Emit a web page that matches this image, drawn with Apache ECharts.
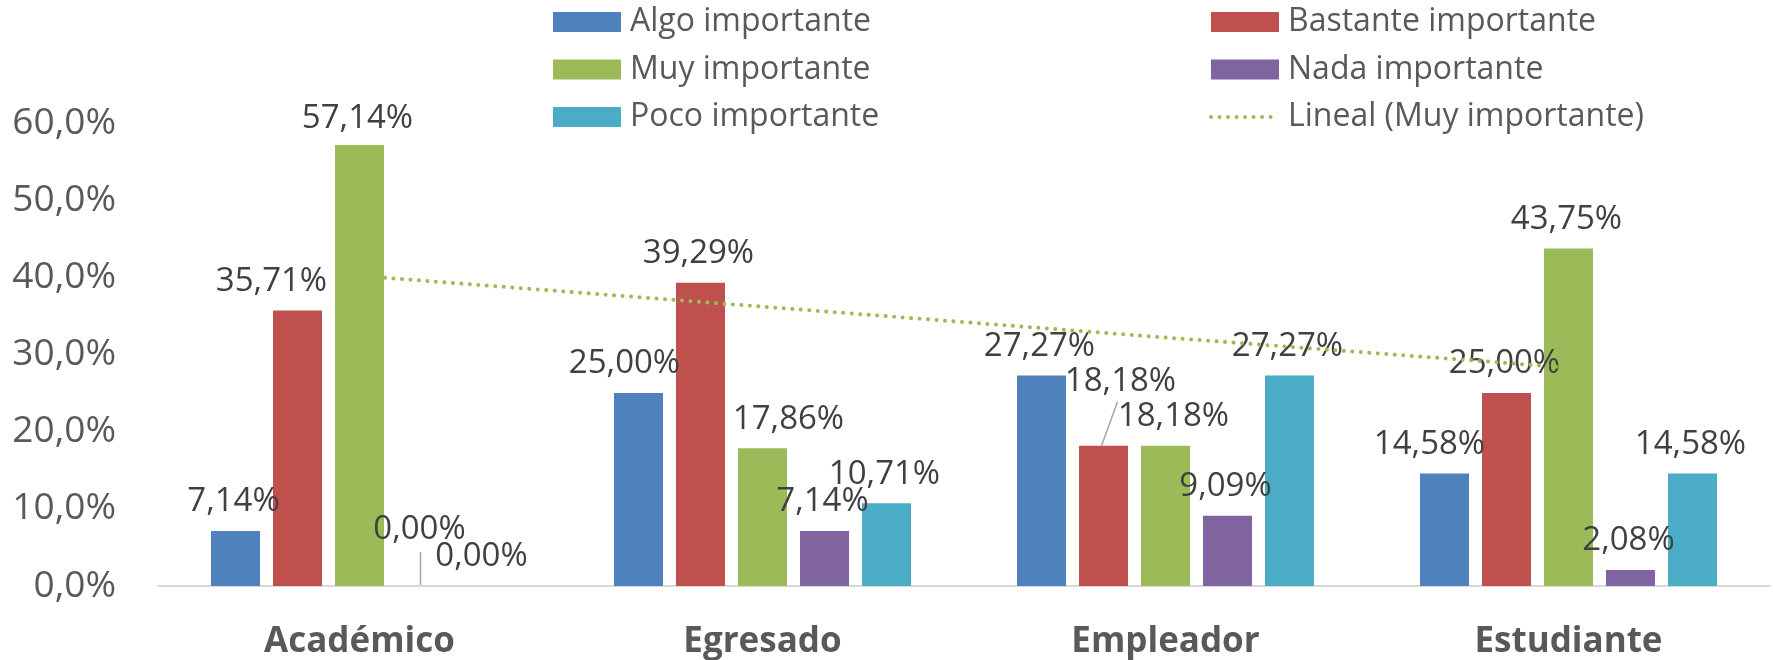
<!DOCTYPE html>
<html>
<head>
<meta charset="utf-8">
<script src="https://cdn.jsdelivr.net/npm/echarts@6/dist/echarts.min.js"></script>
<style>
html,body{margin:0;padding:0;background:#fff;}
#chart{width:1773px;height:660px;}
</style>
</head>
<body>
<div id="chart"></div>
<script>
const categories = ['Académico', 'Egresado', 'Empleador', 'Estudiante'];
const algoImportante = [7.14, 25.00, 27.27, 14.58];
const bastanteImportante = [35.71, 39.29, 18.18, 25.00];
const muyImportante = [57.14, 17.86, 18.18, 43.75];
const nadaImportante = [0.00, 7.14, 9.09, 2.08];
const pocoImportante = [0.00, 10.71, 27.27, 14.58];
const linealMuyImportante = [40.2, 36.2, 32.2, 28.3];

// label placement tweaks (pixels), like manually dragged labels in the original
const labelAdjust = {
  'Algo importante': {1: [-12, 0], 3: [-13, 0]},
  'Bastante importante': {0: [-24, 0], 2: [72, 0]},
  'Muy importante': {0: [0, 3], 1: [28, 0], 2: [-43, -35]},
  'Nada importante': {0: [0, -27]},
  'Poco importante': {}
};

// leader lines from a bar top (pixel offsets relative to the bar's top centre)
const leaderSpec = [
  {series: 'Nada importante', index: 0, from: [-1, -1], to: [-1, -34]},
  {series: 'Bastante importante', index: 2, from: [-2, 0], to: [14, -44]}
];

const colors = {
  'Algo importante': '#4F81BD',
  'Bastante importante': '#C0504D',
  'Muy importante': '#9BBB59',
  'Nada importante': '#8064A2',
  'Poco importante': '#4BACC6'
};

function fmt(v) { return v.toFixed(2).replace('.', ',') + '%'; }

function barSeries(name, values) {
  const adj = labelAdjust[name] || {};
  return {
    name: name,
    type: 'bar',
    barGap: '26.5%',
    barCategoryGap: '26.3%',
    itemStyle: {color: colors[name]},
    label: {
      show: true,
      position: 'top',
      distance: 11,
      offset: [-2, 0],
      fontSize: 33,
      lineHeight: 36,
      color: '#404040',
      fontFamily: 'Open Sans',
      formatter: function (p) { return fmt(p.value); }
    },
    data: values.map(function (v, i) {
      const a = adj[i];
      const item = {value: v};
      if (a) item.label = {offset: [-2 + a[0], a[1]]};
      return item;
    })
  };
}

const chart = echarts.init(document.getElementById('chart'));
chart.setOption({
  animation: false,
  textStyle: {fontFamily: 'Open Sans'},
  legend: [
    {
      orient: 'vertical', left: 553, top: 3, padding: 0,
      itemWidth: 68, itemHeight: 20, itemGap: 9.5,
      textStyle: {fontSize: 32, lineHeight: 38, color: '#595959', padding: [0, 0, 0, 4]},
      data: [
        {name: 'Algo importante', icon: 'rect'},
        {name: 'Muy importante', icon: 'rect'},
        {name: 'Poco importante', icon: 'rect'}
      ]
    },
    {
      orient: 'vertical', left: 1209, top: 3, padding: 0,
      itemWidth: 68, itemHeight: 20, itemGap: 9.5,
      textStyle: {fontSize: 32, lineHeight: 38, color: '#595959', padding: [0, 0, 0, 4]},
      data: [
        {name: 'Bastante importante', icon: 'rect'},
        {name: 'Nada importante', icon: 'rect'},
        {name: 'Lineal (Muy importante)', itemStyle: {opacity: 0},
         lineStyle: {width: 4, type: [0.01, 8.5], cap: 'round', color: '#9BBB59'}}
      ]
    }
  ],
  grid: {left: 158, right: 3, top: 123, bottom: 74, containLabel: false, outerBoundsMode: 'none'},
  xAxis: {
    type: 'category',
    data: categories,
    axisLine: {show: true, lineStyle: {color: '#D9D9D9', width: 2}},
    axisTick: {show: false},
    axisLabel: {fontSize: 35, fontWeight: 'bold', color: '#595959', margin: 35, lineHeight: 42}
  },
  yAxis: {
    type: 'value',
    min: 0, max: 60, interval: 10,
    splitLine: {show: false},
    axisLine: {show: false},
    axisTick: {show: false},
    axisLabel: {
      fontSize: 37, color: '#595959', margin: 42, padding: [9, 0, 0, 0],
      formatter: function (v) { return v.toFixed(1).replace('.', ',') + '%'; }
    }
  },
  series: [
    barSeries('Algo importante', algoImportante),
    barSeries('Bastante importante', bastanteImportante),
    {
      name: 'Lineal (Muy importante)',
      type: 'line',
      data: linealMuyImportante,
      symbol: 'none',
      silent: true,
      itemStyle: {color: '#9BBB59'},
      lineStyle: {color: '#9BBB59', width: 4, type: [0.01, 8.5], cap: 'round'}
    },
    barSeries('Muy importante', muyImportante),
    barSeries('Nada importante', nadaImportante),
    barSeries('Poco importante', pocoImportante)
  ]
});

// leader lines positioned from the library's own bar layout
const gmodel = chart.getModel();
const graphics = [];
leaderSpec.forEach(function (s) {
  const sm = gmodel.getSeriesByName(s.series)[0];
  if (!sm) return;
  const lay = sm.getData().getItemLayout(s.index);
  if (!lay) return;
  const cx = lay.x + lay.width / 2;
  const top = lay.y + lay.height;
  graphics.push({
    type: 'line', silent: true, z: 10,
    shape: {x1: cx + s.from[0], y1: top + s.from[1], x2: cx + s.to[0], y2: top + s.to[1]},
    style: {stroke: '#A6A6A6', lineWidth: 1.5}
  });
});
chart.setOption({graphic: graphics});
</script>
</body>
</html>
